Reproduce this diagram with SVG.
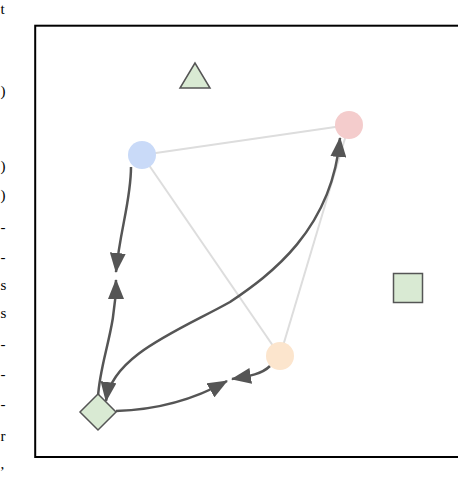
<svg xmlns="http://www.w3.org/2000/svg" width="458" height="480" viewBox="0 0 458 480">
<style>
.frag{font-family:"Liberation Serif",serif;font-size:15px;fill:#000}
.soft{stroke:#dddddd;stroke-width:2;fill:none}
.dark{stroke:#555555;stroke-width:2.5;fill:none}
.shape{fill:#d9ead3;stroke:#555555;stroke-width:1.5}
</style>
<defs>
<marker id="ah" markerUnits="userSpaceOnUse" markerWidth="20" markerHeight="16" refX="19" refY="8" orient="auto-start-reverse">
<path d="M0,0 L20,8 L0,16 z" fill="#555555"/>
</marker>
</defs>
<rect width="458" height="480" fill="#ffffff"/>
<g id="page-edge-fragments">
<text class="frag" x="0.5" y="14">t</text>
<text class="frag" x="0.5" y="96">)</text>
<text class="frag" x="0.5" y="171">)</text>
<text class="frag" x="0.5" y="200">)</text>
<text class="frag" x="0.5" y="232">-</text>
<text class="frag" x="0.5" y="262">-</text>
<text class="frag" x="0.5" y="290">s</text>
<text class="frag" x="0.5" y="318">s</text>
<text class="frag" x="0.5" y="349">-</text>
<text class="frag" x="0.5" y="379">-</text>
<text class="frag" x="0.5" y="409">-</text>
<text class="frag" x="0.5" y="441">r</text>
<text class="frag" x="0.5" y="469">,</text>
</g>
<rect id="frame" x="35.2" y="25.7" width="440" height="431.3" fill="#ffffff" stroke="#000000" stroke-width="2"/>
<g id="connectors">
<line class="soft" x1="142" y1="155" x2="349" y2="125"/>
<line class="soft" x1="142" y1="155" x2="280" y2="356"/>
<line class="soft" x1="349" y1="125" x2="280" y2="356"/>
<path class="dark" d="M131,167 C131,200 120,230 116,272" marker-end="url(#ah)"/>
<path class="dark" d="M98,397 C100,360 116,330 116,280" marker-end="url(#ah)"/>
<path class="dark" d="M270,366 C262,374 250,376 232,379" marker-end="url(#ah)"/>
<path class="dark" d="M116,411 C150,410 190,402 227,381" marker-end="url(#ah)"/>
<path class="dark" d="M106,401 C112,355 180,330 230,302 C270,275 332,230 340,138" marker-start="url(#ah)" marker-end="url(#ah)"/>
</g>
<g id="node-triangle"><polygon class="shape" points="195,63 180,88 210,88"/></g>
<g id="node-blue"><circle cx="142" cy="155" r="14" fill="#c9daf8"/></g>
<g id="node-pink"><circle cx="349" cy="125" r="14" fill="#f4cccc"/></g>
<g id="node-peach"><circle cx="280" cy="356" r="14" fill="#fce5cd"/></g>
<g id="node-square"><rect class="shape" x="393.5" y="273.5" width="29" height="29" stroke-width="2.2"/></g>
<g id="node-diamond"><polygon class="shape" points="98,394 116,412 98,430 80,412"/></g>
</svg>
